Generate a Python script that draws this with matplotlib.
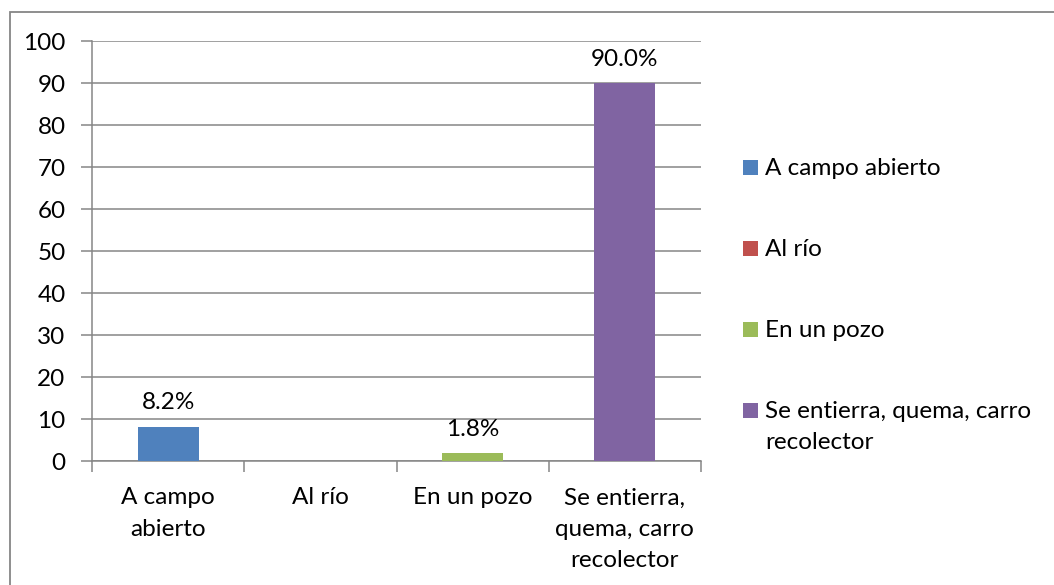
import matplotlib
matplotlib.use("Agg")
import matplotlib.pyplot as plt
from matplotlib.patches import Rectangle

categories = ["A campo\nabierto", "Al río", "En un pozo", "Se entierra,\nquema, carro\nrecolector"]
legend_labels = ["A campo abierto", "Al río", "En un pozo", "Se entierra, quema, carro\nrecolector"]
values = [8.2, 0.0, 1.8, 90.0]
colors = ["#4F81BD", "#C0504D", "#9BBB59", "#8064A2"]
yticks = list(range(0, 101, 10))

plt.rcParams['font.family'] = ['Lato', 'DejaVu Sans']
FS = 17.5
W, H = 1054, 585
fig = plt.figure(figsize=(W / 100, H / 100), dpi=100)

# outer chart border (only top/left visible)
fig.patches.append(Rectangle((9.5 / W, -0.1), 1.2, 1 - 11.5 / H + 0.1, transform=fig.transFigure,
                             fill=False, edgecolor="#868686", linewidth=1.3))

ax = fig.add_axes([92 / W, 1 - 461 / H, (701 - 92) / W, (461 - 41) / H])
x = list(range(len(categories)))
bars = ax.bar(x, values, width=0.4, color=colors, zorder=3)
ax.set_xlim(-0.5, len(categories) - 0.5)
ax.set_ylim(0, 100)
ax.set_yticks(yticks)
ax.yaxis.grid(True, color="#868686", linewidth=1.1, zorder=0)
ax.set_axisbelow(True)

ax.set_xticks([i - 0.5 for i in range(len(categories) + 1)], minor=False)
ax.set_xticklabels([""] * (len(categories) + 1))
ax.set_xticks(x, minor=True)
ax.set_xticklabels(categories, minor=True, fontsize=FS, linespacing=1.62)
ax.tick_params(axis="x", which="minor", length=0, pad=19)
ax.tick_params(axis="x", which="major", length=8, color="#868686", width=1.1)
ax.tick_params(axis="y", length=8, color="#868686", width=1.1, labelsize=FS, pad=11)

for s in ["top", "right"]:
    ax.spines[s].set_visible(False)
for s in ["left", "bottom"]:
    ax.spines[s].set_color("#868686")
    ax.spines[s].set_linewidth(1.1)

for xi, v in zip(x, values):
    if v > 0:
        ax.annotate(f"{v:.1f}%", (xi, v), xytext=(0, 17), textcoords="offset points",
                    ha="center", va="center", fontsize=FS)

# legend (one entry per category, colour key square aligned with the first text line)
for i, (lab, col) in enumerate(zip(legend_labels, colors)):
    cy = 167 + i * 81
    fig.patches.append(Rectangle((743 / W, 1 - (cy + 7.5) / H), 15 / W, 15 / H,
                                 transform=fig.transFigure, facecolor=col, edgecolor="none"))
    fig.text(765 / W, 1 - (cy - 9) / H, lab, fontsize=FS, ha="left", va="top", linespacing=1.6)

fig.savefig("out.png", dpi=100)
